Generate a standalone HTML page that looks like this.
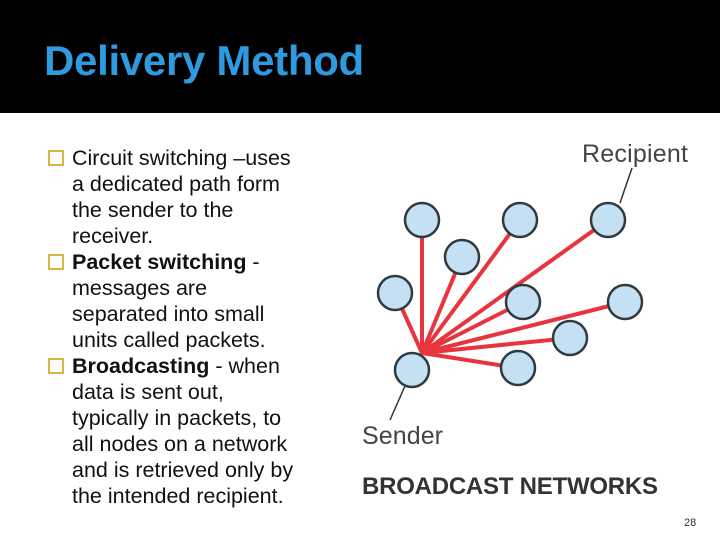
<!DOCTYPE html>
<html><head><meta charset="utf-8"><style>
body{margin:0;width:720px;height:540px;background:#fff;position:relative;overflow:hidden;font-family:"Liberation Sans",sans-serif}
.hdr{position:absolute;left:0;top:0;width:720px;height:113px;background:#000}
.title{position:absolute;left:44px;top:37px;font-size:42px;font-weight:bold;color:#2e9be0;letter-spacing:-0.3px}
.l{position:absolute;left:72px;font-size:21.5px;color:#111;white-space:nowrap;line-height:26px}
.b{position:absolute;left:48px;width:12px;height:12px;border:2px solid #d9b54a}
.pg{position:absolute;left:684px;top:517px;font-size:11px;color:#333}
</style></head><body>
<div class="hdr"></div>
<div class="title">Delivery Method</div>
<div class="b" style="top:150px"></div>
<div class="l" style="top:145px">Circuit switching –uses</div>
<div class="l" style="top:171px">a dedicated path form</div>
<div class="l" style="top:197px">the sender to the</div>
<div class="l" style="top:223px">receiver.</div>
<div class="b" style="top:254px"></div>
<div class="l" style="top:249px"><b>Packet switching</b> -</div>
<div class="l" style="top:275px">messages are</div>
<div class="l" style="top:301px">separated into small</div>
<div class="l" style="top:327px">units called packets.</div>
<div class="b" style="top:358px"></div>
<div class="l" style="top:353px"><b>Broadcasting</b> - when</div>
<div class="l" style="top:379px">data is sent out,</div>
<div class="l" style="top:405px">typically in packets, to</div>
<div class="l" style="top:431px">all nodes on a network</div>
<div class="l" style="top:457px">and is retrieved only by</div>
<div class="l" style="top:483px">the intended recipient.</div>
<svg style="position:absolute;left:0;top:0" width="720" height="540">
<g stroke="#e8343c" stroke-width="4" stroke-linecap="round">
<line x1="422" y1="353" x2="422" y2="220"/>
<line x1="422" y1="353" x2="520" y2="220"/>
<line x1="422" y1="353" x2="608" y2="220"/>
<line x1="422" y1="353" x2="462" y2="257"/>
<line x1="422" y1="353" x2="395" y2="293"/>
<line x1="422" y1="353" x2="523" y2="302"/>
<line x1="422" y1="353" x2="625" y2="302"/>
<line x1="422" y1="353" x2="570" y2="338"/>
<line x1="422" y1="353" x2="518" y2="368"/>
</g>
<g stroke="#333" stroke-width="1.5">
<line x1="632" y1="168" x2="620" y2="203"/>
<line x1="405" y1="386" x2="390" y2="420"/>
</g>
<g fill="#c4e0f2" stroke="#2e3a40" stroke-width="2.5">
<circle cx="422" cy="220" r="17"/><circle cx="520" cy="220" r="17"/><circle cx="608" cy="220" r="17"/>
<circle cx="462" cy="257" r="17"/><circle cx="395" cy="293" r="17"/><circle cx="523" cy="302" r="17"/>
<circle cx="625" cy="302" r="17"/><circle cx="570" cy="338" r="17"/><circle cx="518" cy="368" r="17"/>
<circle cx="412" cy="370" r="17"/>
</g>
<text x="582" y="162" font-size="25" fill="#444" font-family="Liberation Sans" textLength="106">Recipient</text>
<text x="362" y="444" font-size="25" fill="#444" font-family="Liberation Sans" textLength="81">Sender</text>
<text x="362" y="494" font-size="24" font-weight="bold" fill="#333" font-family="Liberation Sans" textLength="296">BROADCAST NETWORKS</text>
</svg>
<div class="pg">28</div>
</body></html>
